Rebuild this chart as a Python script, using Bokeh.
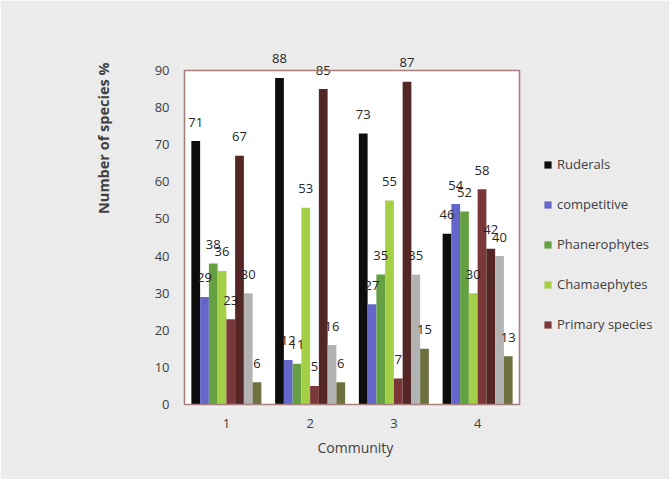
from bokeh.plotting import figure
from bokeh.models import (Range1d, ColumnDataSource, LabelSet, Legend, LegendItem,
                          FixedTicker, BoxAnnotation, Title)
from bokeh.core.properties import value
from bokeh.transform import dodge
from bokeh.embed import file_html
from bokeh.resources import INLINE

communities = ["1", "2", "3", "4"]
ruderals = [71, 88, 73, 46]
competitive = [29, 12, 27, 54]
phanerophytes = [38, 11, 35, 52]
chamaephytes = [36, 53, 55, 30]
primary_species = [23, 5, 7, 58]
series_6 = [67, 85, 87, 42]
series_7 = [30, 16, 35, 40]
series_8 = [6, 6, 15, 13]

series_names = ["Ruderals", "competitive", "Phanerophytes", "Chamaephytes",
                "Primary species", None, None, None]
series_values = [ruderals, competitive, phanerophytes, chamaephytes,
                 primary_species, series_6, series_7, series_8]
colors = ["#0D0D0D", "#6467C9", "#65A043", "#A6CF48", "#7B3838", "#552626", "#B3B3B3", "#6E703F"]

y_max = 90
y_ticks = list(range(0, y_max + 1, 10))

FONT = "Open Sans"
TXT = "#404040"
BG = "#EBEBEB"

W, H = 669, 479
# pixel geometry of the white plot area
area_left, area_right, area_top, area_bottom = 184, 519, 70, 404
# drawing frame is a little larger than the white plot area so that its border,
# the labels above the 90 line and the legend on the right are not clipped
frame_left, frame_right, frame_top, frame_bottom = 181, 669, 45, 407
n = len(communities)
px_x = (area_right - area_left) / n
px_y = (area_bottom - area_top) / y_max
x_start = -(area_left - frame_left) / px_x
x_end = (frame_right - area_left) / px_x
y_start = -(frame_bottom - area_bottom) / px_y
y_end = (area_bottom - frame_top) / px_y

p = figure(x_range=Range1d(x_start, x_end), y_range=Range1d(y_start, y_end),
           width=W, height=H, output_backend="svg", toolbar_location=None,
           min_border_left=frame_left, min_border_right=W - frame_right,
           min_border_top=frame_top, min_border_bottom=H - frame_bottom)
p.background_fill_color = BG
p.border_fill_color = BG
p.outline_line_color = None
p.xgrid.grid_line_color = None
p.ygrid.grid_line_color = None

plot_area = BoxAnnotation(left=0, right=n, bottom=0, top=y_max, fill_color="white", fill_alpha=1,
                          line_color=None, level="underlay")
p.add_layout(plot_area)
plot_border = BoxAnnotation(left=0, right=n, bottom=0, top=y_max, fill_alpha=0,
                            line_color="#A67F7F", line_alpha=1, line_width=1.6, level="overlay")
p.add_layout(plot_border)

centers = [i + 0.5 for i in range(n)]
data = {"xc": centers}
for i, vals in enumerate(series_values):
    data[f"s{i}"] = vals
    data[f"t{i}"] = [str(v) for v in vals]
src = ColumnDataSource(data)

bw = 0.1045
items = []
for i in range(8):
    off = (i - 3.5) * bw
    r = p.vbar(x=dodge("xc", off), top=f"s{i}", width=bw,
               source=src, fill_color=colors[i], line_color=None)
    if series_names[i]:
        items.append(LegendItem(label=series_names[i], renderers=[r]))
    labels = LabelSet(x=dodge("xc", off), y=f"s{i}", text=f"t{i}",
                      source=src, text_align="center", text_baseline="middle",
                      y_offset=19, text_font=value(FONT), text_font_size=value("13px"),
                      text_color=value("#262626"))
    p.add_layout(labels)

legend = Legend(items=items, location=(543 - frame_left, frame_bottom - 334), padding=0, margin=0,
                border_line_color=None, background_fill_alpha=0,
                glyph_width=9, glyph_height=9, label_height=20, spacing=20,
                label_standoff=5, label_text_font=FONT, label_text_font_size="13px",
                label_text_color=TXT)
p.add_layout(legend, "center")

p.yaxis.ticker = FixedTicker(ticks=y_ticks)
p.xaxis.ticker = FixedTicker(ticks=centers)
p.xaxis.major_label_overrides = {c: lab for c, lab in zip(centers, communities)}
for ax in (p.xaxis, p.yaxis):
    ax.axis_line_color = None
    ax.major_tick_line_color = None
    ax.minor_tick_line_color = None
    ax.major_tick_in = 0
    ax.major_tick_out = 0
    ax.major_label_text_font = FONT
    ax.major_label_text_font_size = "13px"
    ax.major_label_text_color = TXT
p.yaxis.major_label_standoff = 12
p.xaxis.major_label_standoff = 11

xtitle = Title(text="Community", align="left", offset=136, standoff=10,
               text_font=FONT, text_font_size="14px", text_font_style="normal", text_color=TXT)
p.add_layout(xtitle, "below")

ytitle = Title(text="Number of species %", align="right", offset=17 + 70 - 45 - 25, standoff=77,
               text_font=FONT, text_font_size="14.5px", text_font_style="bold", text_color=TXT)
p.add_layout(ytitle, "left")

open("out.html", "w").write(file_html(p, INLINE))
